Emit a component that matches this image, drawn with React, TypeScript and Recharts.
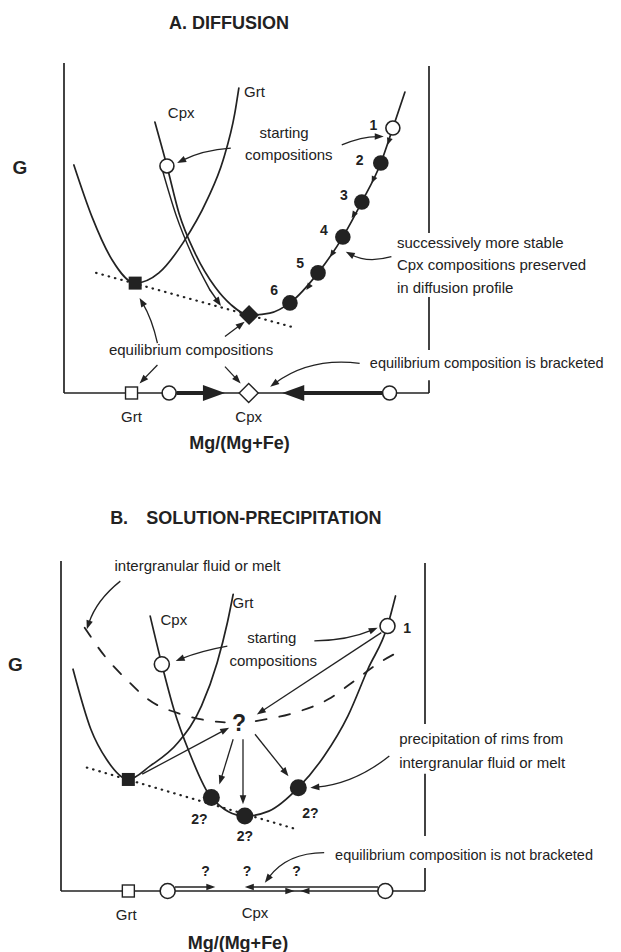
import React from "react";
import { ComposedChart, Line, XAxis, YAxis, ReferenceLine, ReferenceDot } from "recharts";

const INK = "#222";
const FONT = "'Liberation Sans', Arial, Helvetica, sans-serif";

type Pt = { x: number; g: number };

// x = Mg/(Mg+Fe) (0 = left edge of box, 100 = right edge), g = free energy (0 = base, 100 = top)

// ---------- A. DIFFUSION ----------
const grtA: Pt[] = [
  { x: 2.7, g: 69.1 }, { x: 7.7, g: 53.3 }, { x: 13.2, g: 40.3 }, { x: 19.5, g: 33.3 },
  { x: 26.0, g: 36.4 }, { x: 32.6, g: 45.5 }, { x: 39.2, g: 58.5 }, { x: 43.6, g: 70.6 },
  { x: 46.8, g: 84.8 }, { x: 47.9, g: 92.4 },
];
const cpxA: Pt[] = [
  { x: 24.9, g: 82.1 }, { x: 28.2, g: 68.8 }, { x: 31.5, g: 54.5 }, { x: 35.9, g: 42.4 },
  { x: 41.4, g: 32.1 }, { x: 45.8, g: 26.7 }, { x: 50.7, g: 23.6 }, { x: 56.4, g: 24.2 },
  { x: 61.9, g: 27.3 }, { x: 69.6, g: 36.4 }, { x: 76.4, g: 47.3 }, { x: 81.6, g: 57.9 },
  { x: 86.8, g: 69.7 }, { x: 90.1, g: 80.3 }, { x: 93.4, g: 91.2 },
];
const cpxRimA: Pt[] = [
  { x: 27.1, g: 67.0 }, { x: 30.7, g: 53.9 }, { x: 35.1, g: 41.8 }, { x: 40.0, g: 31.2 },
];
const tangentA: Pt[] = [{ x: 8.8, g: 36.4 }, { x: 62.5, g: 20.0 }];
const startA: Pt[] = [{ x: 28.2, g: 68.8 }, { x: 90.1, g: 80.3 }];
const profileA: Pt[] = [
  { x: 86.8, g: 69.7 }, { x: 81.6, g: 57.9 }, { x: 76.4, g: 47.3 }, { x: 69.6, g: 36.4 }, { x: 61.9, g: 27.3 },
];
const profileMidA: Pt[] = [
  { x: 88.7, g: 75.2 }, { x: 84.3, g: 63.6 }, { x: 78.8, g: 53.0 }, { x: 72.9, g: 41.2 }, { x: 66.4, g: 31.2 },
];
const stepNumbersA = ["1", "2", "3", "4", "5", "6"];
const stepLabelPosA: Pt[] = [
  { x: 84.8, g: 81.2 }, { x: 81.0, g: 70.6 }, { x: 76.7, g: 60.0 }, { x: 71.2, g: 49.4 }, { x: 64.7, g: 39.4 }, { x: 57.6, g: 31.2 },
];
const grtEqA: Pt = { x: 19.5, g: 33.3 };
const cpxEqA: Pt = { x: 50.7, g: 23.6 };
const axisA = { grt: 18.5, cpxStart: 28.8, cpx: 50.6, cpxEnd: 89.2, tipL: 44.1, tipR: 59.8 };

// ---------- B. SOLUTION-PRECIPITATION ----------
const grtB: Pt[] = [
  { x: 3.3, g: 67.2 }, { x: 8.2, g: 49.0 }, { x: 12.5, g: 39.9 }, { x: 18.5, g: 33.8 },
  { x: 24.5, g: 37.9 }, { x: 32.1, g: 44.9 }, { x: 38.6, g: 56.1 }, { x: 42.9, g: 69.2 },
  { x: 45.7, g: 81.3 }, { x: 47.3, g: 89.9 },
];
const cpxB: Pt[] = [
  { x: 24.5, g: 83.3 }, { x: 27.7, g: 68.7 }, { x: 31.0, g: 55.1 }, { x: 35.3, g: 41.9 },
  { x: 41.3, g: 28.3 }, { x: 50.5, g: 22.7 }, { x: 57.1, g: 24.2 }, { x: 65.2, g: 31.3 },
  { x: 72.3, g: 40.9 }, { x: 78.8, g: 53.0 }, { x: 84.3, g: 67.2 }, { x: 89.7, g: 80.3 },
  { x: 91.9, g: 89.4 },
];
const fluidLeftB: Pt[] = [
  { x: 6.5, g: 79.8 }, { x: 12.0, g: 71.2 }, { x: 17.9, g: 64.2 }, { x: 23.9, g: 58.1 },
  { x: 33.2, g: 53.5 }, { x: 41.3, g: 51.5 }, { x: 45.0, g: 51.1 },
];
const fluidRightB: Pt[] = [
  { x: 53.5, g: 51.5 }, { x: 64.1, g: 54.0 }, { x: 73.4, g: 58.1 }, { x: 79.9, g: 63.1 },
  { x: 87.5, g: 69.2 }, { x: 94.0, g: 73.2 },
];
const tangentB: Pt[] = [{ x: 7.1, g: 37.4 }, { x: 64.7, g: 18.7 }];
const startB: Pt[] = [{ x: 27.7, g: 68.7 }, { x: 89.7, g: 80.3 }];
const rimsB: Pt[] = [{ x: 41.3, g: 28.3 }, { x: 50.5, g: 22.7 }, { x: 65.2, g: 31.3 }];
const rimLabelPosB: Pt[] = [{ x: 38.0, g: 21.7 }, { x: 50.5, g: 16.7 }, { x: 68.5, g: 23.7 }];
const grtEqB: Pt = { x: 18.5, g: 33.8 };
const fluidQ: Pt = { x: 48.9, g: 51.0 };
const axisQB = [39.7, 51.1, 64.7];
const axisB = { grt: 18.5, cpxStart: 29.3, cpxEnd: 89.1 };

// ---------- helpers ----------
const pt = (p: Pt) => ({ x: p.x, y: p.g });

function arrowShape(o: { bend?: number; head?: number; half?: number; width?: number; noLine?: boolean }) {
  return (p: any) => {
    const x1 = +p.x1, y1 = +p.y1, x2 = +p.x2, y2 = +p.y2;
    const dx = x2 - x1, dy = y2 - y1;
    const len = Math.hypot(dx, dy) || 1;
    const b = (o.bend ?? 0) * len;
    const qx = (x1 + x2) / 2 - (dy / len) * b;
    const qy = (y1 + y2) / 2 + (dx / len) * b;
    const tx = x2 - qx, ty = y2 - qy;
    const tl = Math.hypot(tx, ty) || 1;
    const ux = tx / tl, uy = ty / tl;
    const h = o.head ?? 9, w = o.half ?? 3.3;
    const bx = x2 - ux * h, by = y2 - uy * h;
    const ex = x2 - ux * h * 0.7, ey = y2 - uy * h * 0.7;
    return (
      <g>
        {!o.noLine && (
          <path d={`M${x1},${y1} Q${qx},${qy} ${ex},${ey}`} fill="none" stroke={INK} strokeWidth={o.width ?? 1.3} />
        )}
        <polygon points={`${x2},${y2} ${bx - uy * w},${by + ux * w} ${bx + uy * w},${by - ux * w}`} fill={INK} />
      </g>
    );
  };
}

const arrow = (key: string, a: Pt, b: Pt, o: any = {}) => (
  <ReferenceLine key={key} segment={[pt(a), pt(b)]} ifOverflow="visible" shape={arrowShape(o)} />
);

const rule = (key: string, a: Pt, b: Pt, w = 1.7) => (
  <ReferenceLine key={key} segment={[pt(a), pt(b)]} ifOverflow="visible" stroke={INK} strokeWidth={w} />
);

type Kind = "open" | "dot" | "sq" | "osq" | "dia" | "odia";
const markerShape = (kind: Kind, size: number) => (p: any) => {
  const { cx, cy } = p;
  const s = size;
  switch (kind) {
    case "open":
      return <circle cx={cx} cy={cy} r={s} fill="#fff" stroke={INK} strokeWidth={1.6} />;
    case "dot":
      return <circle cx={cx} cy={cy} r={s} fill={INK} />;
    case "sq":
      return <rect x={cx - s} y={cy - s} width={2 * s} height={2 * s} fill={INK} />;
    case "osq":
      return <rect x={cx - s} y={cy - s} width={2 * s} height={2 * s} fill="#fff" stroke={INK} strokeWidth={1.4} />;
    case "dia":
      return <polygon points={`${cx},${cy - s} ${cx + s},${cy} ${cx},${cy + s} ${cx - s},${cy}`} fill={INK} />;
    default:
      return (
        <polygon points={`${cx},${cy - s} ${cx + s},${cy} ${cx},${cy + s} ${cx - s},${cy}`} fill="#fff" stroke={INK} strokeWidth={1.4} />
      );
  }
};

const marker = (key: string, p: Pt, kind: Kind, size: number) => (
  <ReferenceDot key={key} x={p.x} y={p.g} ifOverflow="visible" shape={markerShape(kind, size)} />
);

const label = (
  key: string,
  p: Pt,
  text: string,
  o: { size?: number; bold?: boolean; anchor?: "start" | "middle" | "end" } = {}
) => (
  <ReferenceDot
    key={key}
    x={p.x}
    y={p.g}
    ifOverflow="visible"
    shape={(d: any) => (
      <text
        x={d.cx}
        y={d.cy}
        dy="0.35em"
        textAnchor={o.anchor ?? "middle"}
        fontFamily={FONT}
        fontSize={o.size ?? 15}
        fontWeight={o.bold ? 700 : 400}
        fill={INK}
      >
        {text}
      </text>
    )}
  />
);

const curve = (key: string, data: Pt[], o: { dash?: string; width?: number; type?: any } = {}) => (
  <Line
    key={key}
    data={data}
    dataKey="g"
    type={o.type ?? "monotone"}
    stroke={INK}
    strokeWidth={o.width ?? 1.7}
    strokeDasharray={o.dash}
    strokeLinecap="round"
    dot={false}
    activeDot={false}
    isAnimationActive={false}
  />
);

function Panel({ xDomain, gDomain, children }: { xDomain: number[]; gDomain: number[]; children: React.ReactNode }) {
  return (
    <ComposedChart width={621} height={476} margin={{ top: 0, right: 0, bottom: 0, left: 0 }}>
      <XAxis type="number" dataKey="x" domain={xDomain} hide allowDataOverflow />
      <YAxis type="number" domain={gDomain} hide allowDataOverflow />
      {children}
    </ComposedChart>
  );
}

export default function App() {
  return (
    <div style={{ width: 621, height: 952, background: "#fff" }}>
      <style>{"body{margin:0}"}</style>
      <Panel xDomain={[-17.534, 152.603]} gDomain={[-25.152, 119.091]}>
        {[
          rule("axL", { x: 0, g: 0 }, { x: 0, g: 100 }),
          rule("axB", { x: 0, g: 0 }, { x: 100, g: 0 }),
          rule("axR1", { x: 100, g: 99.1 }, { x: 100, g: 48.5 }),
          rule("axR2", { x: 100, g: 29.1 }, { x: 100, g: 13.0 }),
          rule("axR3", { x: 100, g: 3.9 }, { x: 100, g: 0 }),
        ]}
        {curve("tan", tangentA, { dash: "0.5 6", width: 2.2, type: "linear" })}
        {curve("grt", grtA)}
        {curve("cpx", cpxA)}
        {curve("rim", cpxRimA, { width: 1.5 })}
        {[
          arrow("rimHead", cpxRimA[cpxRimA.length - 1], { x: 43.0, g: 26.4 }, { head: 9, half: 3.5, width: 1.5 }),
          arrow("st1", { x: 45.7, g: 74.2 }, { x: 31.0, g: 69.7 }, { bend: 0.1 }),
          arrow("st2", { x: 76.1, g: 75.2 }, { x: 87.6, g: 77.7 }, { bend: -0.1 }),
          arrow("prof", { x: 89.7, g: 41.3 }, { x: 77.2, g: 42.8 }, { bend: -0.2 }),
          arrow("eq1", { x: 25.6, g: 15.1 }, { x: 20.7, g: 28.8 }, { bend: 0.08 }),
          arrow("eq2", { x: 44.1, g: 17.1 }, { x: 49.5, g: 21.6 }),
          arrow("eq3", { x: 25.6, g: 8.5 }, { x: 20.7, g: 2.9 }),
          arrow("eq4", { x: 44.1, g: 8.0 }, { x: 48.4, g: 2.9 }),
          arrow("brk", { x: 81.0, g: 9.0 }, { x: 56.5, g: 1.9 }, { bend: 0.2 }),
          arrow("thL", { x: axisA.cpxStart + 2, g: 0 }, { x: axisA.tipL, g: 0 }, { width: 4, head: 22, half: 8 }),
          arrow("thR", { x: axisA.cpxEnd - 2, g: 0 }, { x: axisA.tipR, g: 0 }, { width: 4, head: 22, half: 8 }),
        ]}
        {profileMidA.map((m, i) =>
          arrow(`chev${i}`, i === 0 ? startA[1] : profileA[i - 1], m, { noLine: true, head: 7, half: 3 })
        )}
        {startA.map((p, i) => marker(`so${i}`, p, "open", 7))}
        {profileA.map((p, i) => marker(`pf${i}`, p, "dot", 7.8))}
        {[
          marker("grtEq", grtEqA, "sq", 6.5),
          marker("cpxEq", cpxEqA, "dia", 10),
          marker("bSq", { x: axisA.grt, g: 0 }, "osq", 6),
          marker("bC1", { x: axisA.cpxStart, g: 0 }, "open", 7),
          marker("bDia", { x: axisA.cpx, g: 0 }, "odia", 9.5),
          marker("bC2", { x: axisA.cpxEnd, g: 0 }, "open", 7),
        ]}
        {stepLabelPosA.map((p, i) => label(`n${i}`, p, stepNumbersA[i], { bold: true, size: 14 }))}
        {[
          label("title", { x: 28.8, g: 112.1 }, "A. DIFFUSION", { bold: true, size: 18, anchor: "start" }),
          label("G", { x: -12.1, g: 68.5 }, "G", { bold: true, size: 19 }),
          label("grtL", { x: 52.2, g: 91.2 }, "Grt"),
          label("cpxL", { x: 32.1, g: 84.8 }, "Cpx"),
          label("s1", { x: 60.3, g: 78.8 }, "starting"),
          label("s2", { x: 61.6, g: 72.1 }, "compositions"),
          label("p1", { x: 91.2, g: 45.5 }, "successively more stable", { anchor: "start" }),
          label("p2", { x: 91.2, g: 38.8 }, "Cpx compositions preserved", { anchor: "start" }),
          label("p3", { x: 91.2, g: 31.8 }, "in diffusion profile", { anchor: "start" }),
          label("eqc", { x: 34.8, g: 13.0 }, "equilibrium compositions"),
          label("brkT", { x: 83.8, g: 9.1 }, "equilibrium composition is bracketed", { anchor: "start", size: 14.5 }),
          label("xGrt", { x: axisA.grt, g: -7.3 }, "Grt"),
          label("xCpx", { x: axisA.cpx, g: -7.3 }, "Cpx"),
          label("xT", { x: 48.1, g: -15.2 }, "Mg/(Mg+Fe)", { bold: true, size: 18 }),
        ]}
      </Panel>
      <Panel xDomain={[-16.758, 153.846]} gDomain={[-18.485, 125.758]}>
        {[
          rule("axL", { x: 0, g: 0 }, { x: 0, g: 100 }),
          rule("axB", { x: 0, g: 0 }, { x: 100, g: 0 }),
          rule("axR1", { x: 100, g: 99.4 }, { x: 100, g: 50.6 }),
          rule("axR2", { x: 100, g: 35.5 }, { x: 100, g: 16.7 }),
          rule("axR3", { x: 100, g: 7.0 }, { x: 100, g: 0 }),
        ]}
        {curve("tan", tangentB, { dash: "0.5 6", width: 2.2, type: "linear" })}
        {curve("fl1", fluidLeftB, { dash: "11 13", width: 1.8 })}
        {curve("fl2", fluidRightB, { dash: "11 13", width: 1.8 })}
        {curve("grt", grtB)}
        {curve("cpx", cpxB)}
        {[
          arrow("ig", { x: 16.3, g: 93.9 }, { x: 7.1, g: 79.3 }, { bend: 0.15 }),
          arrow("st1", { x: 45.7, g: 74.2 }, { x: 31.5, g: 69.7 }, { bend: 0.05 }),
          arrow("st2", { x: 69.6, g: 75.8 }, { x: 87.0, g: 79.8 }, { bend: 0.1 }),
          arrow("c1q", { x: 88.0, g: 78.3 }, { x: 53.8, g: 53.5 }),
          arrow("sqq", { x: 22.3, g: 35.4 }, { x: 46.2, g: 49.5 }),
          arrow("q1", { x: 47.3, g: 46.0 }, { x: 43.5, g: 32.3 }),
          arrow("q2", { x: 50.0, g: 46.0 }, { x: 50.0, g: 26.3 }),
          arrow("q3", { x: 53.3, g: 47.5 }, { x: 62.5, g: 34.8 }),
          arrow("pr", { x: 90.2, g: 40.9 }, { x: 68.5, g: 31.3 }, { bend: -0.15 }),
          arrow("nb", { x: 72.3, g: 11.6 }, { x: 56.0, g: 2.5 }, { bend: 0.25 }),
          arrow("u1", { x: axisB.cpxStart + 2, g: 1.2 }, { x: 42.4, g: 1.2 }, { width: 1.5 }),
          arrow("u2", { x: axisB.cpxEnd - 2, g: 1.2 }, { x: 50.5, g: 1.2 }, { width: 1.5 }),
          arrow("l1", { x: 55, g: 0 }, { x: 64.1, g: 0 }, { noLine: true }),
          arrow("l2", { x: 75, g: 0 }, { x: 65.8, g: 0 }, { noLine: true }),
        ]}
        {startB.map((p, i) => marker(`so${i}`, p, "open", 7.5))}
        {rimsB.map((p, i) => marker(`rim${i}`, p, "dot", 8.5))}
        {[
          marker("grtEq", grtEqB, "sq", 6.5),
          marker("bSq", { x: axisB.grt, g: 0 }, "osq", 6),
          marker("bC1", { x: axisB.cpxStart, g: 0 }, "open", 7.5),
          marker("bC2", { x: axisB.cpxEnd, g: 0 }, "open", 7.5),
        ]}
        {rimLabelPosB.map((p, i) => label(`r${i}`, p, "2?", { bold: true, size: 14 }))}
        {axisQB.map((x, i) => label(`aq${i}`, { x, g: 6.1 }, "?", { bold: true, size: 14 }))}
        {[
          label("titleB", { x: 13.5, g: 113.1 }, "B.", { bold: true, size: 18, anchor: "start" }),
          label("titleB2", { x: 23.4, g: 113.1 }, "SOLUTION-PRECIPITATION", { bold: true, size: 18, anchor: "start" }),
          label("G", { x: -12.5, g: 68.8 }, "G", { bold: true, size: 19 }),
          label("ig", { x: 14.7, g: 98.5 }, "intergranular fluid or melt", { anchor: "start" }),
          label("grtL", { x: 50.0, g: 87.4 }, "Grt"),
          label("cpxL", { x: 31.0, g: 82.3 }, "Cpx"),
          label("one", { x: 95.1, g: 79.8 }, "1", { bold: true, size: 14 }),
          label("s1", { x: 57.9, g: 76.6 }, "starting"),
          label("s2", { x: 58.3, g: 69.7 }, "compositions"),
          label("q", fluidQ, "?", { bold: true, size: 23 }),
          label("pr1", { x: 92.9, g: 46.0 }, "precipitation of rims from", { anchor: "start" }),
          label("pr2", { x: 92.9, g: 38.9 }, "intergranular fluid or melt", { anchor: "start" }),
          label("nbT", { x: 75.3, g: 10.9 }, "equilibrium composition is not bracketed", { anchor: "start", size: 14.5 }),
          label("xGrt", { x: 17.9, g: -7.1 }, "Grt"),
          label("xCpx", { x: 53.3, g: -6.6 }, "Cpx"),
          label("xT", { x: 48.6, g: -15.7 }, "Mg/(Mg+Fe)", { bold: true, size: 18 }),
        ]}
      </Panel>
    </div>
  );
}
